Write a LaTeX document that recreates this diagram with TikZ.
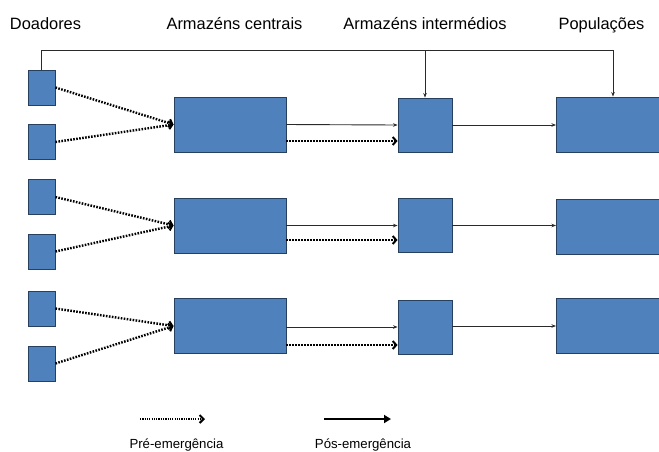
\documentclass[tikz,border=0pt]{standalone}
\usepackage{fontspec}
\setmainfont{Liberation Sans}
\usetikzlibrary{arrows.meta,calc}
\definecolor{boxfill}{HTML}{4F81BD}
\definecolor{boxedge}{HTML}{27405F}
\definecolor{lineg}{HTML}{2A2A2A}
\tikzset{
  bx/.style={draw=boxedge,line width=0.9pt,fill=boxfill,inner sep=0pt,anchor=center},
  donor/.style={bx,minimum width=27pt,minimum height=35pt},
  central/.style={bx,minimum width=112pt,minimum height=55pt},
  inter/.style={bx,minimum width=54pt,minimum height=54pt},
  popbox/.style={bx,minimum width=120pt,minimum height=55pt,anchor=west},
  head/.style={font=\fontsize{16.4pt}{19pt}\selectfont,anchor=base},
  leg/.style={font=\fontsize{13.2pt}{15pt}\selectfont,anchor=base},
  solidarr/.style={draw=lineg,line width=0.9pt,-{Stealth[length=4.5pt,width=3.5pt]}},
  dotarr/.style={draw=black,line width=2.4pt,dash pattern=on 1.6pt off 1.4pt,
     -{Straight Barb[length=3.5pt,width=8pt,line width=2pt]}},
  topline/.style={draw=lineg,line width=0.9pt},
}
\begin{document}
\begin{tikzpicture}[x=1pt,y=-1pt]
\useasboundingbox (0,0) rectangle (659,451);
% headers
\node[head] (h1) at (45.5,29) {Doadores};
\node[head] (h2) at (234.5,29) {Armazéns centrais};
\node[head] (h3) at (425,29) {Armazéns intermédios};
\node[head] (h4) at (601.5,29) {Populações};
% donors
\node[donor] (d1) at (41.5,87.5) {};
\node[donor] (d2) at (41.5,142) {};
\node[donor] (d3) at (41.5,197) {};
\node[donor] (d4) at (41.5,251.5) {};
\node[donor] (d5) at (41.5,308.5) {};
\node[donor] (d6) at (41.5,363.5) {};
% central
\node[central] (c1) at (230,124.5) {};
\node[central] (c2) at (230,225.5) {};
\node[central] (c3) at (230,326) {};
% intermediate
\node[inter] (i1) at (425,125) {};
\node[inter] (i2) at (425,225.5) {};
\node[inter] (i3) at (425,327.5) {};
% populations
\node[popbox] (p1) at (556,124.5) {};
\node[popbox] (p2) at (556,227) {};
\node[popbox] (p3) at (556,326) {};
% top line
\coordinate (tr) at (613,50);
\draw[topline] (d1.north) |- (tr);
\draw[solidarr] (tr) -- (tr |- p1.north);
\draw[solidarr] (i1.north |- tr) -- (i1.north);
% donors to central
\draw[dotarr] (d1.east) -- (c1.west);
\draw[dotarr] (d2.east) -- (c1.west);
\draw[dotarr] (d3.east) -- (c2.west);
\draw[dotarr] (d4.east) -- (c2.west);
\draw[dotarr] (d5.east) -- (c3.west);
\draw[dotarr] (d6.east) -- (c3.west);
% central to intermediate
\draw[solidarr] (c1.east) -- (i1.west);
\draw[solidarr] (c2.east) -- (i2.west);
\draw[solidarr] ([yshift=-1pt]c3.east) -- ([yshift=-1pt]c3.east -| i3.west);
\draw[dotarr] ([yshift=-16.5pt]c1.east) -- ([yshift=-16.5pt]c1.east -| i1.west);
\draw[dotarr] ([yshift=-14.5pt]c2.east) -- ([yshift=-14.5pt]c2.east -| i2.west);
\draw[dotarr] ([yshift=-19pt]c3.east) -- ([yshift=-19pt]c3.east -| i3.west);
% intermediate to populations
\draw[solidarr] (i1.east) -- (i1.east -| p1.west);
\draw[solidarr] (i2.east) -- (i2.east -| p2.west);
\draw[solidarr] ([yshift=1.5pt]i3.east) -- ([yshift=1.5pt]i3.east -| p3.west);
% legend
\coordinate (la) at (140,419);
\coordinate (lb) at (205,419);
\coordinate (lc) at (324,419);
\coordinate (ld) at (391,419);
\draw[draw=black,line width=1.6pt,dash pattern=on 1.2pt off 1.1pt,
  -{Straight Barb[length=4pt,width=8pt,line width=2pt]}] (la) -- (lb);
\draw[draw=black,line width=1.8pt,-{Triangle[length=7pt,width=8pt]}] (lc) -- (ld);
\node[leg] (l1) at (176.5,448) {Pré-emergência};
\node[leg] (l2) at (363,448) {Pós-emergência};
\end{tikzpicture}
\end{document}
